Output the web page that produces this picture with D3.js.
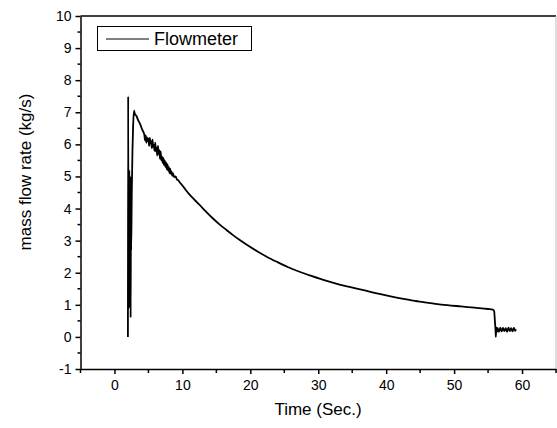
<!DOCTYPE html>
<html>
<head>
<meta charset="utf-8">
<script src="https://cdn.jsdelivr.net/npm/d3@7"></script>
<style>
  body { margin: 0; background: #fff; }
  text { font-family: "Liberation Sans", Arial, sans-serif; fill: #000; }
</style>
</head>
<body>
<div id="chart"></div>
<script>
// values
const timeSec = [
  1.98, 2.02, 2.06, 2.10, 2.14, 2.18, 2.22, 2.26, 2.30, 2.34, 2.38, 2.42, 2.46,
  2.55, 2.65, 2.75, 2.88, 3.0, 3.2, 3.5, 3.8, 4.1,
  4.4, 4.5, 4.6, 4.7, 4.8, 4.9, 5.0, 5.1, 5.2, 5.3, 5.4, 5.5, 5.6, 5.7, 5.8, 5.9,
  6.0, 6.1, 6.2, 6.3, 6.4, 6.5, 6.6, 6.7, 6.8, 6.9, 7.0, 7.1, 7.2, 7.3, 7.4, 7.5,
  7.6, 7.7, 7.8, 7.9, 8.0, 8.1, 8.2, 8.3, 8.4, 8.5, 8.6, 8.8, 9.0, 9.2, 9.4, 9.6,
  10, 10.5, 11, 11.8, 12.5, 13.5, 14.5, 15.5, 16.5, 17.4, 18.5,
  20, 21, 22.4, 24, 25.5, 27.25, 29, 31, 33, 34.6, 37, 39, 41, 43, 44.9, 47, 49,
  51, 53, 55, 55.7, 55.9, 56.0, 56.1, 56.15, 56.2, 56.3, 56.4, 56.6, 56.8, 57.0,
  57.2, 57.4, 57.6, 57.8, 58.0, 58.2, 58.4, 58.6, 58.8, 59.0, 59.1
];
const flowRate = [
  0.0, 7.5, 1.2, 4.8, 0.9, 5.2, 1.5, 4.2, 2.0, 5.0, 0.6, 3.5, 2.7,
  4.5, 5.8, 6.6, 7.05, 6.95, 6.9, 6.75, 6.62, 6.45,
  6.30, 6.12, 6.28, 6.05, 6.22, 6.10, 6.18, 5.95, 6.20, 6.02, 6.10, 5.88, 6.15, 5.92, 5.98, 5.80,
  6.05, 5.78, 5.90, 5.65, 5.95, 5.70, 5.82, 5.55, 5.78, 5.50, 5.62, 5.42, 5.58, 5.35, 5.50, 5.30,
  5.44, 5.22, 5.38, 5.18, 5.30, 5.10, 5.24, 5.08, 5.16, 5.02, 5.10, 4.98, 5.00, 4.90, 4.88, 4.82,
  4.72, 4.58, 4.45, 4.27, 4.12, 3.90, 3.69, 3.50, 3.33, 3.18, 3.01,
  2.80, 2.67, 2.50, 2.33, 2.18, 2.03, 1.90, 1.76, 1.64, 1.56, 1.44, 1.34, 1.25, 1.17, 1.10, 1.04, 0.99,
  0.95, 0.91, 0.87, 0.85, 0.80, 0.50, 0.20, 0.0, 0.30, 0.15, 0.28, 0.16, 0.29, 0.17,
  0.28, 0.18, 0.27, 0.16, 0.29, 0.18, 0.27, 0.17, 0.28, 0.19, 0.24
];
const xMajorTicks = [0, 10, 20, 30, 40, 50, 60];
const xMinorTicks = [-5, 5, 15, 25, 35, 45, 55, 65];
const yMajorTicks = [-1, 0, 1, 2, 3, 4, 5, 6, 7, 8, 9, 10];
const yMinorTicks = [-0.5, 0.5, 1.5, 2.5, 3.5, 4.5, 5.5, 6.5, 7.5, 8.5, 9.5];
const seriesName = 'Flowmeter';

const width = 557, height = 428;
const plotLeft = 80.5, plotRight = 556, plotTop = 16, plotBottom = 369;

const svg = d3.select('#chart')
  .append('svg')
  .attr('width', width)
  .attr('height', height);

const x = d3.scaleLinear().domain([-5, 65]).range([plotLeft, plotRight]);
const y = d3.scaleLinear().domain([-1, 10]).range([plotBottom, plotTop]);

// frame: top black, right grey
svg.append('line')
  .attr('x1', plotLeft).attr('x2', plotRight).attr('y1', plotTop).attr('y2', plotTop)
  .attr('stroke', '#000').attr('stroke-width', 1.5);
svg.append('line')
  .attr('x1', plotRight).attr('x2', plotRight).attr('y1', plotTop).attr('y2', plotBottom)
  .attr('stroke', '#bbb').attr('stroke-width', 1);

// plain hyphen for negatives, like the original
const fmt = d => String(d);

// bottom axis
const xAxis = svg.append('g').attr('transform', `translate(0,${plotBottom})`);
xAxis.call(d3.axisBottom(x).tickValues(xMajorTicks).tickFormat(fmt)
  .tickSize(5).tickSizeOuter(0).tickPadding(6));
xAxis.append('g').selectAll('line')
  .data(xMinorTicks)
  .join('line')
    .attr('x1', d => x(d)).attr('x2', d => x(d))
    .attr('y1', 0).attr('y2', 4)
    .attr('stroke', '#000').attr('stroke-width', 1.5);

// left axis
const yAxis = svg.append('g').attr('transform', `translate(${plotLeft},0)`);
yAxis.call(d3.axisLeft(y).tickValues(yMajorTicks).tickFormat(fmt)
  .tickSize(5).tickSizeOuter(0).tickPadding(4));
yAxis.append('g').selectAll('line')
  .data(yMinorTicks)
  .join('line')
    .attr('x1', 0).attr('x2', -3)
    .attr('y1', d => y(d)).attr('y2', d => y(d))
    .attr('stroke', '#000').attr('stroke-width', 1.5);

svg.selectAll('.domain').attr('stroke', '#000').attr('stroke-width', 1.5);
svg.selectAll('.tick line').attr('stroke', '#000').attr('stroke-width', 1.5);
svg.selectAll('.tick text')
  .attr('font-size', 14)
  .attr('font-family', '"Liberation Sans", Arial, sans-serif')
  .attr('fill', '#000');

// axis titles
svg.append('text')
  .attr('x', 318).attr('y', 415)
  .attr('text-anchor', 'middle')
  .attr('font-size', 17)
  .text('Time (Sec.)');

svg.append('text')
  .attr('transform', 'translate(31,172) rotate(-90)')
  .attr('text-anchor', 'middle')
  .attr('font-size', 17)
  .text('mass flow rate (kg/s)');

// data line
const points = timeSec.map((t, i) => [t, flowRate[i]]);
svg.append('path')
  .datum(points)
  .attr('fill', 'none')
  .attr('stroke', '#000')
  .attr('stroke-width', 1.8)
  .attr('stroke-linejoin', 'round')
  .attr('d', d3.line().curve(d3.curveMonotoneX).x(d => x(d[0])).y(d => y(d[1])));

// legend
const legend = svg.append('g');
legend.append('rect')
  .attr('x', 97.5).attr('y', 26.5).attr('width', 154).attr('height', 24)
  .attr('fill', '#fff').attr('stroke', '#000').attr('stroke-width', 1);
legend.append('line')
  .attr('x1', 106).attr('x2', 149).attr('y1', 39).attr('y2', 39)
  .attr('stroke', '#000').attr('stroke-width', 1);
legend.append('text')
  .attr('x', 154).attr('y', 45)
  .attr('font-size', 18)
  .text(seriesName);
</script>
</body>
</html>
